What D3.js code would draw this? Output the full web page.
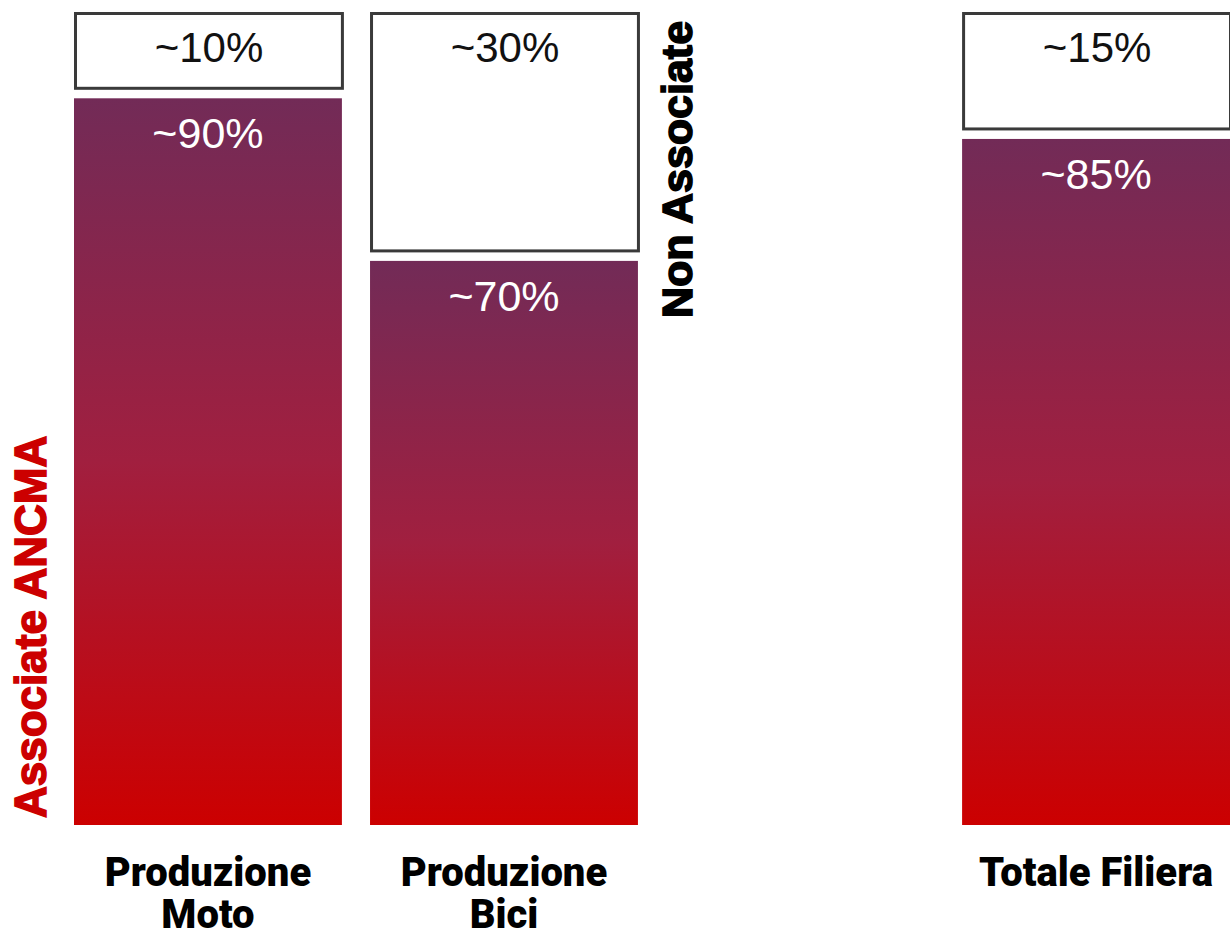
<!DOCTYPE html>
<html>
<head>
<meta charset="utf-8">
<script src="https://cdn.jsdelivr.net/npm/d3@7"></script>
<style>
  body { margin: 0; background: #fff; }
  svg { display: block; }
</style>
</head>
<body>
<div id="chart"></div>
<script>
// data
const categories = ["Produzione Moto", "Produzione Bici", "Totale Filiera"];
const associate = [90, 70, 85];
const nonAssociate = [10, 30, 15];
const assocLabels = ["~90%", "~70%", "~85%"];
const nonAssocLabels = ["~10%", "~30%", "~15%"];
// empty slot between Bici and Totale holds the "Non Associate" label
const slots = ["Produzione Moto", "Produzione Bici", "spacer", "Totale Filiera"];

const width = 1230, height = 935;
const gap = 10;

const svg = d3.select("#chart").append("svg")
    .attr("width", width)
    .attr("height", height);

const x = d3.scaleBand()
    .domain(slots)
    .range([74, 1230])
    .paddingInner(0.095)
    .paddingOuter(0);

const y = d3.scaleLinear()
    .domain([0, 100])
    .range([825, 12]);

// gradient for Associate bars
const grad = svg.append("defs").append("linearGradient")
    .attr("id", "assocGrad")
    .attr("x1", 0).attr("y1", 0).attr("x2", 0).attr("y2", 1);
grad.append("stop").attr("offset", "0%").attr("stop-color", "#722b57");
grad.append("stop").attr("offset", "50%").attr("stop-color", "#a11f3f");
grad.append("stop").attr("offset", "100%").attr("stop-color", "#cc0000");

const data = categories.map((c, i) => ({
    name: c,
    assoc: associate[i],
    non: nonAssociate[i],
    assocLabel: assocLabels[i],
    nonLabel: nonAssocLabels[i]
}));

const bar = svg.selectAll(".bar")
    .data(data)
    .enter().append("g")
    .attr("class", "bar")
    .attr("transform", d => "translate(" + x(d.name) + ",0)");

// associate segment
bar.append("rect")
    .attr("x", 0)
    .attr("width", x.bandwidth())
    .attr("y", d => y(d.assoc) + gap / 2)
    .attr("height", d => y(0) - y(d.assoc) - gap / 2)
    .style("fill", "url(#assocGrad)");

// non associate segment (outlined box)
bar.append("rect")
    .attr("x", 1.5)
    .attr("width", x.bandwidth() - 1)
    .attr("y", d => y(100) + 1.5)
    .attr("height", d => y(d.assoc) - y(100) - gap / 2 - 1.5)
    .style("fill", "#fff")
    .style("stroke", "#3a3a3a")
    .style("stroke-width", 3);

bar.append("text")
    .text(d => d.assocLabel)
    .attr("x", x.bandwidth() / 2)
    .attr("y", d => y(d.assoc) + gap / 2 + 50)
    .attr("text-anchor", "middle")
    .style("font-family", "Liberation Sans, Arial, sans-serif")
    .style("font-size", "43px")
    .style("fill", "#fff");

bar.append("text")
    .text(d => d.nonLabel)
    .attr("x", x.bandwidth() / 2 + 1)
    .attr("y", y(100) + 50)
    .attr("text-anchor", "middle")
    .style("font-family", "Liberation Sans, Arial, sans-serif")
    .style("font-size", "42px")
    .style("fill", "#111");

// category labels, wrapped onto two lines
bar.append("text")
    .attr("x", x.bandwidth() / 2)
    .attr("y", 886)
    .attr("text-anchor", "middle")
    .style("font-family", "Roboto, sans-serif")
    .style("font-weight", "900")
    .style("font-size", "40px")
    .style("fill", "#000")
    .each(function(d) {
        const t = d3.select(this);
        const words = d.name === "Totale Filiera" ? [d.name] : d.name.split(" ");
        words.forEach((w, i) => {
            t.append("tspan")
                .attr("x", x.bandwidth() / 2)
                .attr("dy", i === 0 ? 0 : 42)
                .text(w);
        });
    });

// side labels
svg.append("text")
    .text("Non Associate")
    .attr("transform", "translate(692,318) rotate(-90)")
    .style("font-family", "Liberation Sans, Arial, sans-serif")
    .style("font-weight", "bold")
    .style("font-size", "43px")
    .style("fill", "#000")
    .style("stroke", "#000")
    .style("stroke-width", 1.6);

svg.append("text")
    .text("Associate ANCMA")
    .attr("transform", "translate(46,818) rotate(-90)")
    .style("font-family", "Liberation Sans, Arial, sans-serif")
    .style("font-weight", "bold")
    .style("font-size", "44px")
    .style("fill", "#cc0000")
    .style("stroke", "#cc0000")
    .style("stroke-width", 1.6);
</script>
</body>
</html>
